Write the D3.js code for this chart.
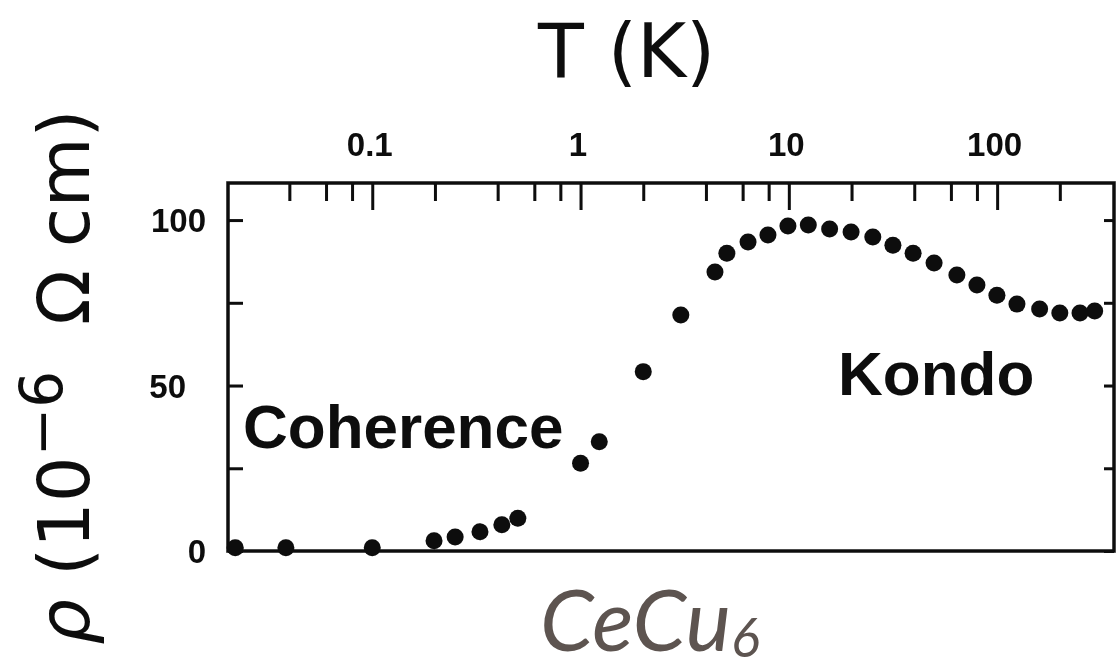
<!DOCTYPE html>
<html><head><meta charset="utf-8">
<script src="https://cdn.jsdelivr.net/npm/d3@7"></script>
<style>
html,body{margin:0;padding:0;background:#fff;}
svg{display:block;}
text{white-space:pre;}
</style></head><body>
<svg id="chart" width="1116" height="672">
  <defs>
    <filter id="soft" x="-5%" y="-5%" width="110%" height="110%">
      <feGaussianBlur stdDeviation="0.55"/>
    </filter>
  </defs>
</svg>
<script>
// Electrical resistivity of CeCu6 against temperature on a log scale
const temperatureK = [0.022, 0.0385, 0.1, 0.198, 0.25, 0.329, 0.419, 0.5, 1.0, 1.23, 2.0, 3.03,
  4.42, 5.04, 6.37, 7.94, 9.9, 12.4, 15.7, 19.9, 25.3, 31.6, 39.5, 49.8, 64.1, 80.0, 99.8,
  124.5, 160, 200, 250, 294];
const resistivity = [1, 1, 1, 3.1, 4.2, 5.8, 7.9, 9.9, 26.5, 33.0, 54.2, 71.3,
  84.3, 90.0, 93.4, 95.5, 98.2, 98.5, 97.3, 96.4, 94.9, 92.4, 90.0, 87.0, 83.4, 80.4, 77.3,
  74.6, 73.1, 71.9, 71.9, 72.5];
const majorTicksT = [0.1, 1, 10, 100];
const minorTicksT = [0.04, 0.06, 0.08, 0.2, 0.4, 0.6, 0.8, 2, 4, 6, 8, 20, 40, 60, 80, 200];
const rhoTicks = [0, 25, 50, 75, 100];
const rhoLabelled = [0, 50, 100];
const regionNames = ["Coherence", "Kondo"];
const compound = ["CeCu", "6"];

const svg = d3.select("#chart");
const plotLeft = 228, plotRight = 1114, plotTop = 183, plotBottom = 551;

const x = d3.scaleLog().domain([0.0203, 364]).range([plotLeft, plotRight]);
const y = d3.scaleLinear().domain([0, 111.2]).range([plotBottom, plotTop]);

const ink = "#0a0a0a";
const tickFont = "'Liberation Sans', Arial, sans-serif";

// the printed figure (frame, axes, points, labels) is slightly soft
const fig = svg.append("g").attr("filter", "url(#soft)");

// frame
fig.append("rect")
  .attr("x", plotLeft).attr("y", plotTop)
  .attr("width", plotRight - plotLeft).attr("height", plotBottom - plotTop)
  .attr("fill", "none").attr("stroke", ink).attr("stroke-width", 3.5);

function styleAxis(g) {
  g.select(".domain").remove();
  g.selectAll(".tick line").attr("stroke", ink).attr("stroke-width", 3);
  g.selectAll(".tick text")
    .attr("fill", ink)
    .style("font-family", tickFont)
    .style("font-weight", "bold")
    .style("font-size", "33px");
}

// top temperature axis: major ticks with labels, minor ticks without
fig.append("g")
  .attr("transform", `translate(0,${plotTop})`)
  .call(d3.axisTop(x).tickValues(minorTicksT).tickSize(-18).tickFormat(""))
  .call(styleAxis);
fig.append("g")
  .attr("transform", `translate(0,${plotTop})`)
  .call(d3.axisTop(x).tickValues(majorTicksT).tickSize(-27).tickPadding(27)
    .tickFormat(d => d < 1 ? String(d) : d3.format("d")(d)))
  .call(styleAxis)
  .selectAll(".tick text").attr("dx", -3);

// left resistivity axis, ticks pointing inward
fig.append("g")
  .attr("transform", `translate(${plotLeft},0)`)
  .call(d3.axisLeft(y).tickValues(rhoTicks).tickSize(-15).tickPadding(22)
    .tickFormat(d => rhoLabelled.includes(d) ? String(d) : ""))
  .call(styleAxis)
  .selectAll(".tick text")
  .attr("dx", d => d === 50 ? -20 : 0)
  .attr("dy", "0.36em");

// right side ticks
fig.append("g")
  .attr("transform", `translate(${plotRight},0)`)
  .call(d3.axisLeft(y).tickValues(rhoTicks).tickSize(10).tickFormat(""))
  .call(styleAxis);

// data points
fig.append("g")
  .selectAll("circle")
  .data(temperatureK.map((t, i) => [t, resistivity[i]]))
  .join("circle")
  .attr("cx", d => x(d[0]))
  .attr("cy", d => y(d[1]))
  .attr("r", 8.5)
  .attr("fill", ink);

// regime labels
const regionStyle = s => s
  .attr("fill", ink)
  .style("font-family", tickFont)
  .style("font-weight", "bold")
  .style("font-size", "62px");
fig.append("text").attr("x", 243).attr("y", 448).text(regionNames[0]).call(regionStyle);
fig.append("text").attr("x", 838).attr("y", 395).text(regionNames[1]).call(regionStyle);

// axis titles
const titleFont = "'DejaVu Sans', sans-serif";
fig.append("text")
  .attr("x", 538).attr("y", 77)
  .attr("fill", ink)
  .style("font-family", titleFont)
  .style("font-size", "75px")
  .text("T (K)");

const ylab = fig.append("text")
  .attr("transform", "translate(89,377) rotate(-90)")
  .attr("text-anchor", "middle")
  .attr("fill", ink)
  .style("font-family", titleFont)
  .style("font-size", "72px");
ylab.append("tspan").style("font-style", "italic").text("ρ");
ylab.append("tspan").text(" (10");
ylab.append("tspan").attr("dy", -27).style("font-size", "58px").text("−6");
ylab.append("tspan").attr("dy", 27).text("  Ω cm)");

// compound name
const comp = svg.append("text")
  .attr("x", 540).attr("y", 651)
  .attr("fill", "#5d5450")
  .style("font-family", "Lato, sans-serif")
  .style("font-style", "italic")
  .style("font-size", "86px");
comp.append("tspan").text(compound[0]);
comp.append("tspan").attr("dy", 6).style("font-size", "54px").text(compound[1]);
</script>
</body></html>
